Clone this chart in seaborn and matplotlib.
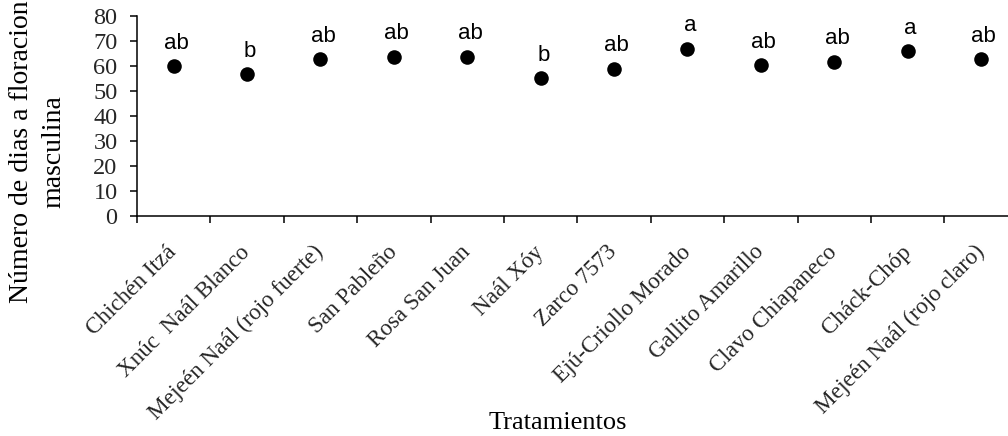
import matplotlib
matplotlib.use("Agg")
import matplotlib.pyplot as plt
from matplotlib.ticker import FixedLocator, NullFormatter
import seaborn as sns
import pandas as pd

# Tratamientos (variedades) y días a floración masculina
tratamientos = [
    "Chichén Itzá",
    "Xnúc  Naál Blanco",
    "Mejeén Naál (rojo fuerte)",
    "San Pableño",
    "Rosa San Juan",
    "Naál Xóy",
    "Zarco 7573",
    "Ejú-Criollo Morado",
    "Gallito Amarillo",
    "Clavo Chiapaneco",
    "Cháck-Chóp",
    "Mejeén Naál (rojo claro)",
]
dias = [59.9, 56.6, 62.7, 63.6, 63.6, 55.0, 58.8, 66.8, 60.3, 61.6, 65.9, 62.6]
letras = ["ab", "b", "ab", "ab", "ab", "b", "ab", "a", "ab", "ab", "a", "ab"]
y_ticks = [0, 10, 20, 30, 40, 50, 60, 70, 80]

df = pd.DataFrame({"tratamiento": tratamientos, "dias": dias, "letra": letras})

sns.set_theme(style="white")
plt.rcParams["font.family"] = ["Liberation Serif", "DejaVu Serif"]

fig = plt.figure(figsize=(10.08, 4.36), dpi=100)
ax = fig.add_axes([0.1359, 0.5053, 0.8738, 0.4587])

sns.scatterplot(data=df, x="tratamiento", y="dias", ax=ax, color="black",
                edgecolor="black", s=110, linewidth=0, zorder=3)

# Letras de significancia sobre cada punto
for i, row in df.iterrows():
    ax.annotate(row["letra"], (i, row["dias"]), xytext=(2, 12.5),
                textcoords="offset points", ha="center", va="baseline",
                fontsize=16, family=["Liberation Sans", "DejaVu Sans"],
                color="black")

n = len(tratamientos)
ax.set_xlim(-0.5, n - 0.5)
ax.set_ylim(0, 80)
ax.set_yticks(y_ticks)
ax.set_xticks(range(n))
ax.set_xticklabels(tratamientos, rotation=45, ha="right", va="center",
                   rotation_mode="anchor", fontsize=16.7)
ax.xaxis.set_minor_locator(FixedLocator([k - 0.5 for k in range(n + 1)]))
ax.xaxis.set_minor_formatter(NullFormatter())
ax.tick_params(axis="x", which="major", length=0, pad=24)
ax.tick_params(axis="x", which="minor", bottom=True, length=5, width=1.1,
               color="black", direction="out")
ax.tick_params(axis="y", which="major", left=True, length=5, width=1.1,
               color="black", direction="out", labelsize=17.5, pad=9)

for side in ["top", "right"]:
    ax.spines[side].set_visible(False)
for side in ["left", "bottom"]:
    ax.spines[side].set_color("black")
    ax.spines[side].set_linewidth(1.1)

ax.set_xlabel("Tratamientos", fontsize=19, color="black")
ax.xaxis.set_label_coords(0.478, -0.98)
ax.set_ylabel("Número de dias a floracion\nmasculina", fontsize=20,
              color="black", ha="center", va="center", linespacing=1.4)
ax.yaxis.set_label_coords(-0.1125, 0.32)

fig.savefig("out.png", dpi=100)
